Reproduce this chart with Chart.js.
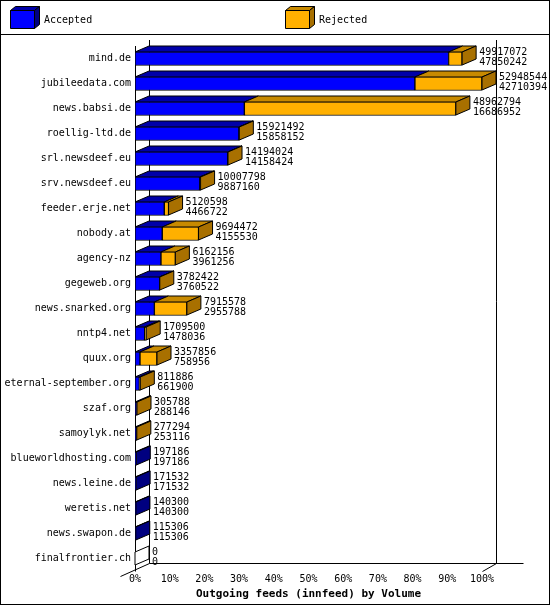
<!DOCTYPE html>
<html><head><meta charset="utf-8">
<script src="https://cdn.jsdelivr.net/npm/chart.js@4"></script>
<style>html,body{margin:0;padding:0;background:#fff}canvas{display:block}</style>
</head><body>
<canvas id="c" width="550" height="605"></canvas>
<script>
const categories = ["mind.de","jubileedata.com","news.babsi.de","roellig-ltd.de","srl.newsdeef.eu","srv.newsdeef.eu","feeder.erje.net","nobody.at","agency-nz","gegeweb.org","news.snarked.org","nntp4.net","quux.org","eternal-september.org","szaf.org","samoylyk.net","blueworldhosting.com","news.leine.de","weretis.net","news.swapon.de","finalfrontier.ch"];
const totalVolume = [49917072,52948544,48962794,15921492,14194024,10007798,5120598,9694472,6162156,3782422,7915578,1709500,3357856,811886,305788,277294,197186,171532,140300,115306,0];
const acceptedVolume = [47850242,42710394,16686952,15858152,14158424,9887160,4466722,4155530,3961256,3760522,2955788,1478036,758956,661900,288146,253116,197186,171532,140300,115306,0];
const tickLabels = ["0%","10%","20%","30%","40%","50%","60%","70%","80%","90%","100%"];

const maxV = Math.max(...totalVolume);
const accPct = acceptedVolume.map(v => v / maxV * 100);
const rejPct = totalVolume.map((v, i) => (v - acceptedVolume[i]) / maxV * 100);
const FONT = '"DejaVu Sans Mono", monospace';
const D = 14, E = 6;
const cols = {acc:["#0000ff","#0000a8","#000080"], rej:["#ffb000","#c88a00","#a87000"]};

function poly(ctx, pts, fill){
  ctx.beginPath(); ctx.moveTo(pts[0][0],pts[0][1]);
  for (const p of pts.slice(1)) ctx.lineTo(p[0],p[1]);
  ctx.closePath(); ctx.fillStyle=fill; ctx.fill(); ctx.strokeStyle="#000"; ctx.lineWidth=1; ctx.stroke();
}
function cube(ctx,x,y,w,h,c){
  poly(ctx,[[x,y],[x+w,y],[x+w,y+h],[x,y+h]],c[0]);
  poly(ctx,[[x,y],[x+5,y-4],[x+w+5,y-4],[x+w,y]],c[1]);
  poly(ctx,[[x+w,y],[x+w+5,y-4],[x+w+5,y+h-4],[x+w,y+h]],c[2]);
}

const deco = {
  id:'deco',
  beforeDraw(chart){
    const ctx = chart.ctx;
    ctx.save();
    ctx.fillStyle="#fff"; ctx.fillRect(0,0,550,605);
    ctx.strokeStyle="#000"; ctx.lineWidth=1;
    ctx.strokeRect(0.5,0.5,549,604);
    ctx.beginPath(); ctx.moveTo(0,34.5); ctx.lineTo(550,34.5); ctx.stroke();
    cube(ctx,10.5,10.5,24,18,cols.acc);
    cube(ctx,285.5,10.5,24,18,cols.rej);
    ctx.fillStyle="#000"; ctx.font="10px "+FONT; ctx.textBaseline="middle";
    ctx.fillText("Accepted",44,20); ctx.fillText("Rejected",319,20);
    const xs = chart.scales.x, ys = chart.scales.y;
    const L = Math.round(xs.getPixelForValue(0))+0.5, R = Math.round(xs.getPixelForValue(100))+0.5, B = Math.round(ys.bottom)+0.5, T = ys.top;
    ctx.beginPath();
    ctx.moveTo(L+D, 40); ctx.lineTo(L+D, B-E-2);
    ctx.moveTo(R+D, 40); ctx.lineTo(R+D, B-E-2);
    ctx.moveTo(L, 46); ctx.lineTo(L, B);
    ctx.moveTo(L-15, B+5); ctx.lineTo(L+D, B-E-2); ctx.lineTo(R+D+27, B-E-2);
    ctx.moveTo(R, B); ctx.lineTo(R+D, B-E-2);
    ctx.stroke();
    ctx.restore();
  },
  afterDatasetsDraw(chart){
    const ctx = chart.ctx;
    const ma = chart.getDatasetMeta(0).data, mr = chart.getDatasetMeta(1).data;
    ctx.save();
    for (let i=0;i<categories.length;i++){
      const a = ma[i], r = mr[i];
      const y0 = a.y - 6.5, y1 = a.y + 6.5;
      const x0 = a.base, xa = a.x, xr = r.x;
      if (xa > x0 + 0.1) { poly(ctx,[[x0,y0],[xa,y0],[xa+D,y0-E],[x0+D,y0-E]],cols.acc[1]); }
      if (xr > xa + 0.1) { poly(ctx,[[xa,y0],[xr,y0],[xr+D,y0-E],[xa+D,y0-E]],cols.rej[1]); }
      const sc = xr > xa + 0.1 ? cols.rej[2] : (xa > x0 + 0.1 ? cols.acc[2] : "#fff");
      poly(ctx,[[xr,y0],[xr+D,y0-E],[xr+D,y1-E],[xr,y1]],sc);
      ctx.font="10px "+FONT; ctx.textBaseline="middle"; ctx.fillStyle="#000";
      ctx.fillText(String(totalVolume[i]), xr+D+3, a.y-6);
      ctx.fillText(String(acceptedVolume[i]), xr+D+3, a.y+4);
    }
    ctx.restore();
  }
};

new Chart(document.getElementById('c'), {
  type:'bar',
  data:{ labels:categories, datasets:[
    {label:'Accepted', data:accPct, backgroundColor:cols.acc[0], borderColor:'#000', borderWidth:1, borderSkipped:false},
    {label:'Rejected', data:rejPct, backgroundColor:cols.rej[0], borderColor:'#000', borderWidth:1, borderSkipped:false}
  ]},
  options:{
    indexAxis:'y', responsive:false, animation:false, devicePixelRatio:1,
    layout:{padding:{top:46,right:68,left:0,bottom:0}},
    datasets:{bar:{barThickness:14, categoryPercentage:1}},
    plugins:{legend:{display:false}, tooltip:{enabled:false}},
    scales:{
      x:{stacked:true,min:0,max:100,
        grid:{display:false,drawTicks:false}, border:{display:false},
        ticks:{stepSize:10,autoSkip:false,padding:2,color:'#000',font:{family:FONT,size:10},
          callback:(v,i)=>tickLabels[i]},
        title:{display:true,text:'Outgoing feeds (innfeed) by Volume',color:'#000',padding:{top:0,bottom:4},font:{family:FONT,size:11,weight:'bold'}},
        afterFit(s){ s.height = 34; }
      },
      y:{stacked:true,
        grid:{display:false,drawTicks:false}, border:{display:false},
        ticks:{padding:4,color:'#000',font:{family:FONT,size:10},autoSkip:false},
        afterFit(s){ s.width = 135; }
      }
    }
  },
  plugins:[deco]
});
</script>
</body></html>
